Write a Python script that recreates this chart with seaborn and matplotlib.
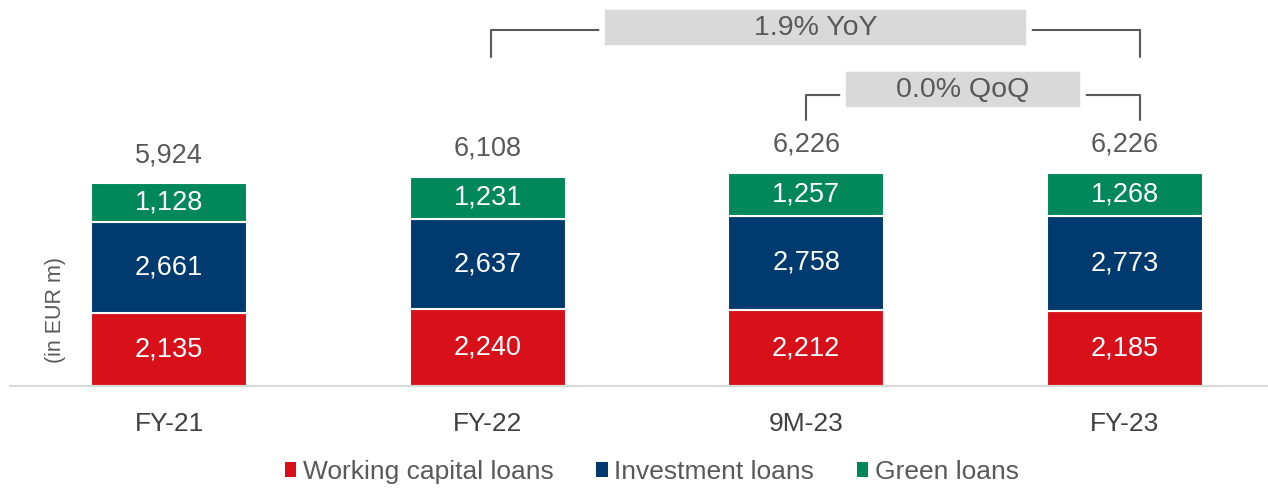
import pandas as pd
import matplotlib.pyplot as plt
import seaborn as sns
from matplotlib.patches import Rectangle, Patch

# chart data
periods = ['FY-21', 'FY-22', '9M-23', 'FY-23']
working_capital = [2135, 2240, 2212, 2185]
investment = [2661, 2637, 2758, 2773]
green = [1128, 1231, 1257, 1268]
totals = [5924, 6108, 6226, 6226]
series_names = ['Working capital loans', 'Investment loans', 'Green loans']
colors = ['#D7101A', '#003A6E', '#00875A']

sns.set_style('white')
plt.rcParams['font.family'] = ['Liberation Sans', 'DejaVu Sans']

df = pd.DataFrame({'period': periods, 'wc': working_capital,
                   'inv': investment, 'green': green, 'total': totals})

fig = plt.figure(figsize=(12.68, 4.88), dpi=100)
ax = fig.add_axes([10 / 1268, 102 / 488, 1258 / 1268, 386 / 488])

# stacked bars
bottom = [0, 0, 0, 0]
for col, color in zip(['wc', 'inv', 'green'], colors):
    sns.barplot(data=df, x='period', y=col, order=periods, color=color,
                width=0.49, bottom=bottom, edgecolor='white', linewidth=1.5,
                saturation=1, ax=ax)
    for i, v in enumerate(df[col]):
        ax.text(i, bottom[i] + v / 2, f'{v:,}', ha='center', va='center',
                color='white', fontsize=19.5)
    bottom = [b + v for b, v in zip(bottom, df[col])]

for i, t in enumerate(totals):
    ax.annotate(f'{t:,}', (i, t), xytext=(0, 20), textcoords='offset points',
                ha='center', va='center', fontsize=19.5, color='#595959')

ax.set_xlim(-0.5, 3.45)
ax.set_ylim(0, 11264)
ax.set_xlabel('')
ax.set_ylabel('')
ax.set_yticks([])
for s in ['top', 'right', 'left']:
    ax.spines[s].set_visible(False)
ax.spines['bottom'].set_color('#D9D9D9')
ax.spines['bottom'].set_linewidth(1.5)
ax.tick_params(axis='x', length=0, pad=19, labelsize=19, labelcolor='#404040')

# growth brackets
gray = '#595959'
ax.plot([1.01, 1.01, 3.047, 3.047], [9600, 10388, 10388, 9600],
        color=gray, lw=1.5, zorder=3)
ax.add_patch(Rectangle((1.36, 9860), 1.34, 1200, facecolor='#D9D9D9',
                       edgecolor='white', lw=4, zorder=4))
ax.text(2.03, 10460, '1.9% YoY', ha='center', va='center', fontsize=20.5,
        color=gray, zorder=5)

ax.plot([2.0, 2.0, 3.047, 3.047], [7762, 8491, 8491, 7762],
        color=gray, lw=1.5, zorder=3)
ax.add_patch(Rectangle((2.115, 8060), 0.755, 1190, facecolor='#D9D9D9',
                       edgecolor='white', lw=4, zorder=4))
ax.text(2.49, 8652, '0.0% QoQ', ha='center', va='center', fontsize=20.5,
        color=gray, zorder=5)

fig.text(55 / 1268, 0.365, '(in EUR m)', rotation=90, ha='center',
         va='center', fontsize=15.5, color=gray)

handles = [Patch(facecolor=c, edgecolor='none') for c in colors]
fig.legend(handles, series_names, loc='center', bbox_to_anchor=(0.514, 0.033),
           ncol=3, frameon=False, fontsize=19, handlelength=0.45,
           handleheight=0.45, handletextpad=0.25, columnspacing=1.6,
           labelcolor='#595959')

fig.savefig('out.png', dpi=100)
